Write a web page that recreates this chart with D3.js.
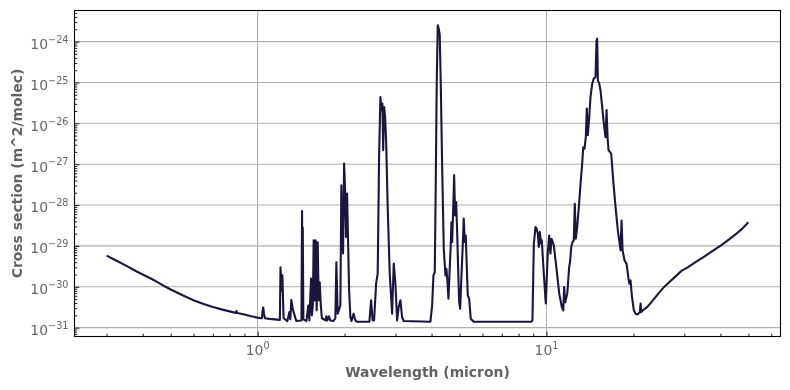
<!DOCTYPE html>
<html>
<head>
<meta charset="utf-8">
<script src="https://cdn.jsdelivr.net/npm/d3@7"></script>
<style>
  html, body { margin: 0; padding: 0; background: #ffffff; }
  svg { display: block; will-change: transform; }
  text { font-family: "DejaVu Sans", sans-serif; }
</style>
</head>
<body>
<svg id="chart" width="790" height="390"></svg>
<script>
// ---- data (wavelength in micron, cross section in m^2/molec) ----
const wavelength = [
  0.30, 0.32, 0.35, 0.38, 0.40, 0.43, 0.45, 0.48, 0.50, 0.55, 0.60, 0.65, 0.70, 0.75, 0.80, 0.84, 0.845, 0.85, 0.90, 0.95, 1.00,
  1.035, 1.040, 1.046, 1.052, 1.060, 1.10, 1.194,
  1.200, 1.210, 1.218, 1.230, 1.267, 1.288, 1.298, 1.308, 1.322, 1.337, 1.361, 1.418, 1.425, 1.429, 1.433, 1.440, 1.475,
  1.498, 1.510, 1.531, 1.541, 1.553, 1.563, 1.575, 1.588, 1.601, 1.614, 1.627, 1.640, 1.655, 1.669, 1.720, 1.730, 1.743, 1.765, 1.785,
  1.829, 1.858, 1.873, 1.893, 1.934, 1.949, 1.976, 1.992, 2.008, 2.024, 2.040, 2.056, 2.073, 2.095, 2.112, 2.150, 2.171, 2.200, 2.437,
  2.471, 2.500, 2.530, 2.571, 2.604, 2.633, 2.661, 2.683, 2.704, 2.720, 2.741, 2.763, 2.785, 2.820, 2.866, 2.921, 2.959, 2.999, 3.040, 3.078, 3.121, 3.163, 3.204,
  3.964, 4.019, 4.061, 4.104, 4.137, 4.169, 4.203, 4.236, 4.270, 4.304, 4.352, 4.409, 4.469, 4.504, 4.541, 4.577, 4.613, 4.661, 4.687, 4.713,
  4.751, 4.789, 4.828, 4.867, 4.906, 4.945, 4.985, 5.025, 5.077, 5.130, 5.170, 5.212, 5.254, 5.296, 5.338, 5.398, 5.468, 5.601,
  8.85, 8.94, 9.04, 9.16, 9.234, 9.33, 9.404, 9.479, 9.585, 9.632, 9.787, 9.944, 10.10, 10.22, 10.32, 10.41, 10.60, 10.83, 11.07, 11.30,
  11.43, 11.51, 11.61, 11.80, 11.98, 12.08, 12.18, 12.31, 12.43, 12.53, 12.63, 12.77, 12.94, 13.12, 13.29, 13.40, 13.54, 13.68, 13.79, 13.90,
  14.06, 14.20, 14.40, 14.58, 14.78, 14.90, 14.98, 15.06, 15.22, 15.38, 15.59, 15.79, 16.01, 16.14, 16.27, 16.40, 16.57, 16.75, 17.02, 17.34,
  17.66, 18.05, 18.19, 18.34, 18.63, 18.93, 19.12, 19.34, 19.54, 19.74, 20.06, 20.34, 20.66, 21.05, 21.17, 21.28,
  21.7, 22.33, 23.0, 23.53, 24.5, 25.49, 26.7, 27.98, 29.3, 30.73, 33.0, 35.07, 37.5, 40.07, 42.2, 44.54, 47.2, 50.0
];
const crossSection = [
  5.8e-30, 4.6e-30, 3.3e-30, 2.4e-30, 2.0e-30, 1.55e-30, 1.3e-30, 1.0e-30, 8.6e-31, 6.2e-31, 4.7e-31, 3.8e-31, 3.2e-31, 2.8e-31, 2.5e-31, 2.3e-31, 2.55e-31, 2.28e-31, 2.1e-31, 1.9e-31, 1.76e-31,
  1.7e-31, 2.6e-31, 3.1e-31, 2.2e-31, 1.7e-31, 1.64e-31, 1.55e-31,
  3.0e-30, 8.0e-31, 1.9e-30, 1.7e-31, 1.45e-31, 2.4e-31, 1.6e-31, 4.8e-31, 2.96e-31, 2.2e-31, 1.45e-31, 1.5e-31, 7.1e-29, 3.0e-31, 2.8e-29, 1.6e-31, 1.45e-31,
  3.5e-31, 1.5e-31, 1.6e-30, 2.0e-31, 3.5e-31, 1.37e-29, 4.6e-31, 1.37e-29, 2.65e-31, 1.23e-29, 4.66e-31, 1.28e-30, 3.5e-31, 1.7e-31, 1.5e-31, 1.9e-31, 1.5e-31, 1.9e-31, 1.5e-31,
  1.45e-31, 1.7e-31, 4.0e-30, 2.2e-31, 3.5e-31, 3.05e-28, 6.5e-30, 1.03e-27, 2.3e-28, 1.65e-29, 1.9e-28, 1.37e-29, 8.2e-31, 1.8e-31, 1.45e-31, 2.2e-31, 1.6e-31, 1.4e-31, 1.4e-31,
  4.66e-31, 1.5e-31, 1.5e-31, 1.19e-30, 2.1e-30, 1.5e-27, 4.4e-26, 2.1e-26, 3.04e-26, 2.2e-27, 2.5e-26, 1.43e-26, 3.8e-27, 8.9e-29, 2.1e-30, 2.2e-31, 3.7e-30, 1.19e-30, 1.5e-31, 3.2e-31, 4.66e-31, 1.8e-31, 1.45e-31,
  1.4e-31, 3.5e-31, 1.9e-30, 2.3e-30, 3.7e-28, 1.02e-25, 2.5e-24, 2.08e-24, 1.43e-24, 1.02e-25, 9.4e-28, 8.6e-30, 1.9e-30, 2.75e-30, 1.3e-30, 5.1e-31, 1.9e-30, 1.04e-29, 3.8e-29, 1.25e-29,
  6.7e-29, 5.4e-28, 5.6e-29, 1.18e-28, 2.2e-29, 2.8e-30, 4.2e-31, 2.9e-31, 1.9e-30, 1.04e-29, 4.7e-29, 1.25e-29, 1.8e-29, 3.35e-30, 6.2e-31, 5.1e-31, 1.66e-31, 1.4e-31,
  1.4e-31, 1.5e-31, 1.14e-29, 2.9e-29, 2.7e-29, 2.0e-29, 9.4e-30, 2.2e-29, 1.14e-29, 1.37e-29, 2.1e-30, 3.9e-31, 6.5e-30, 1.8e-29, 6.5e-30, 1.5e-29, 1.04e-29, 2.75e-30, 6.8e-31, 3.2e-31,
  2.65e-31, 9.8e-31, 4.2e-31, 6.8e-31, 3.0e-30, 4.4e-30, 9.4e-30, 1.25e-29, 1.37e-29, 1.08e-28, 1.5e-29, 2.9e-29, 8.9e-29, 3.35e-28, 1.03e-27, 2.6e-27, 2.4e-27, 4.6e-27, 2.3e-26, 5.1e-27,
  1.43e-26, 4.4e-26, 9.4e-26, 1.24e-25, 1.36e-25, 1.07e-24, 1.18e-24, 1.13e-25, 9.4e-26, 6.4e-26, 2.5e-26, 1.0e-26, 4.6e-27, 2.1e-26, 4.6e-27, 2.2e-27, 2.0e-27, 1.8e-27, 4.0e-28, 8.9e-29,
  2.4e-29, 7.8e-30, 4.2e-29, 7.8e-30, 4.4e-30, 3.7e-30, 2.1e-30, 1.19e-30, 1.43e-30, 6.2e-31, 2.65e-31, 2.2e-31, 2.1e-31, 2.4e-31, 3.9e-31, 2.4e-31,
  2.77e-31, 3.23e-31, 4.11e-31, 4.98e-31, 7.07e-31, 9.8e-31, 1.33e-30, 1.8e-30, 2.44e-30, 2.95e-30, 4.1e-30, 5.4e-30, 7.5e-30, 1.02e-29, 1.33e-29, 1.78e-29, 2.5e-29, 3.8e-29
];
const xMajorTicks = [1, 10];
const xTickExponents = ["0", "1"];
const yMajorExponents = [-31, -30, -29, -28, -27, -26, -25, -24];
const xLabel = "Wavelength (micron)";
const yLabel = "Cross section (m^2/molec)";

// ---- layout ----
const W = 790, H = 390;
const margin = { left: 74.5, right: 9.5, top: 10.5, bottom: 53.5 };
const pw = W - margin.left - margin.right;
const ph = H - margin.top - margin.bottom;
const tickGray = "#666666";
const labelGray = "#626262";
const lineColor = "#1b1540";

const data = wavelength.map((w, i) => ({ w, s: crossSection[i] }));

// log-space 5% margins like matplotlib
function logDomain(vals) {
  const lo = Math.log10(d3.min(vals)), hi = Math.log10(d3.max(vals));
  const m = (hi - lo) * 0.05;
  return [Math.pow(10, lo - m), Math.pow(10, hi + m)];
}
const x = d3.scaleLog().domain(logDomain(wavelength)).range([0, pw]);
const y = d3.scaleLog().domain(logDomain(crossSection)).range([ph, 0]);

const svg = d3.select("#chart");
const g = svg.append("g").attr("transform", `translate(${margin.left},${margin.top})`);

// minor tick values
const [xd0, xd1] = x.domain();
const xMinor = [];
for (let k = -1; k <= 2; k++) for (let m = 2; m <= 9; m++) {
  const v = m * Math.pow(10, k);
  if (v > xd0 && v < xd1) xMinor.push(v);
}
const [yd0, yd1] = y.domain();
const yMinor = [];
for (let k = -32; k <= -24; k++) for (let m = 2; m <= 9; m++) {
  const v = m * Math.pow(10, k);
  if (v > yd0 && v < yd1) yMinor.push(v);
}
const yMajor = yMajorExponents.map(e => Math.pow(10, e));

// grid
g.append("g").selectAll("line").data(yMajor).join("line")
  .attr("x1", 0).attr("x2", pw)
  .attr("y1", d => y(d)).attr("y2", d => y(d))
  .attr("stroke", "#b0b0b0").attr("stroke-width", 1.1);
g.append("g").selectAll("line").data(xMajorTicks).join("line")
  .attr("y1", 0).attr("y2", ph)
  .attr("x1", d => x(d)).attr("x2", d => x(d))
  .attr("stroke", "#b0b0b0").attr("stroke-width", 1.1);

// line
const line = d3.line().x(d => x(d.w)).y(d => y(d.s));
g.append("path").datum(data)
  .attr("d", line)
  .attr("fill", "none")
  .attr("stroke", lineColor)
  .attr("stroke-width", 2.1)
  .attr("stroke-linejoin", "round")
  .attr("stroke-linecap", "butt");

// axes with inward ticks
const xAxisMajor = d3.axisBottom(x).tickValues(xMajorTicks).tickSize(-4.9).tickFormat("");
const xAxisMinor = d3.axisBottom(x).tickValues(xMinor).tickSize(-2.8).tickFormat("");
const yAxisMajor = d3.axisLeft(y).tickValues(yMajor).tickSize(-4.9).tickFormat("");
const yAxisMinor = d3.axisLeft(y).tickValues(yMinor).tickSize(-2.8).tickFormat("");

function styleAxis(sel) {
  sel.select(".domain").remove();
  sel.selectAll(".tick line").attr("stroke", "#000").attr("stroke-width", 0.9);
}
g.append("g").attr("transform", `translate(0,${ph})`).call(xAxisMajor).call(styleAxis);
g.append("g").attr("transform", `translate(0,${ph})`).call(xAxisMinor).call(styleAxis);
g.append("g").call(yAxisMajor).call(styleAxis);
g.append("g").call(yAxisMinor).call(styleAxis);

// frame
g.append("rect").attr("x", 0).attr("y", 0).attr("width", pw).attr("height", ph)
  .attr("fill", "none").attr("stroke", "#000").attr("stroke-width", 1.1);

// tick labels
const fs = 13.9, sfs = 9.7;
g.append("g").selectAll("text").data(yMajorExponents).join("text")
  .attr("x", -6).attr("y", d => y(Math.pow(10, d)) + 7.4)
  .attr("text-anchor", "end").attr("fill", tickGray).attr("font-size", fs)
  .each(function(d) {
    const t = d3.select(this);
    t.append("tspan").text("10");
    t.append("tspan").attr("dy", -6.2).attr("font-size", sfs).text("\u2212" + Math.abs(d));
  });
g.append("g").selectAll("text").data(xMajorTicks).join("text")
  .attr("x", d => x(d)).attr("y", ph + 18.5)
  .attr("text-anchor", "middle").attr("fill", tickGray).attr("font-size", fs)
  .each(function(d, i) {
    const t = d3.select(this);
    t.append("tspan").text("10");
    t.append("tspan").attr("dy", -6.2).attr("font-size", sfs).text(xTickExponents[i]);
  });

// axis labels
svg.append("text")
  .attr("x", margin.left + pw / 2).attr("y", 376.7)
  .attr("text-anchor", "middle").attr("fill", labelGray)
  .attr("font-size", 13.9).attr("font-weight", "bold")
  .text(xLabel);
svg.append("text")
  .attr("transform", `translate(22.3,${margin.top + ph / 2}) rotate(-90)`)
  .attr("text-anchor", "middle").attr("fill", labelGray)
  .attr("font-size", 13.9).attr("font-weight", "bold")
  .text(yLabel);
</script>
</body>
</html>
